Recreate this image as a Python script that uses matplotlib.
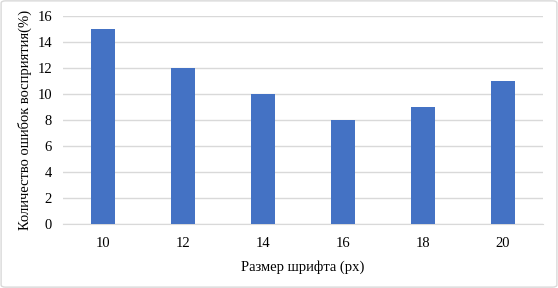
import matplotlib as mpl
mpl.use('Agg')
import matplotlib.pyplot as plt
from matplotlib.patches import FancyBboxPatch

sizes = ['10', '12', '14', '16', '18', '20']
errors = [15, 12, 10, 8, 9, 11]
yticks = [0, 2, 4, 6, 8, 10, 12, 14, 16]

plt.rcParams['font.family'] = ['Liberation Serif', 'DejaVu Serif']

fig = plt.figure(figsize=(5.58, 2.88), dpi=100)
ax = fig.add_axes([0.113, 0.222, 0.860, 0.724])

x = range(len(sizes))
ax.bar(x, errors, width=0.31, color='#4472C4', zorder=3)
ax.set_xlim(-0.5, len(sizes) - 0.5)
ax.set_ylim(0, 16)
ax.set_yticks(yticks)
ax.set_xticks(list(x))
ax.set_xticklabels(sizes)
ax.yaxis.grid(True, color='#D9D9D9', linewidth=1, zorder=0)
for s in ['top', 'right', 'left']:
    ax.spines[s].set_visible(False)
ax.spines['bottom'].set_color('#D9D9D9')
ax.tick_params(axis='both', length=0, labelsize=10.5, colors='#000000')
ax.tick_params(axis='x', pad=9)
ax.tick_params(axis='y', pad=8)
ax.set_xlabel('Размер шрифта (px)', fontsize=10.5, labelpad=8)
ax.set_ylabel('Количество ошибок восприятия(%)', fontsize=10.5, labelpad=4)

border = FancyBboxPatch((0.002, 0.003), 0.996, 0.994, boxstyle='round,pad=0,rounding_size=0.008',
                        transform=fig.transFigure, facecolor='none', edgecolor='#D9D9D9', linewidth=1)
fig.patches.append(border)

fig.savefig('out.png', dpi=100)
